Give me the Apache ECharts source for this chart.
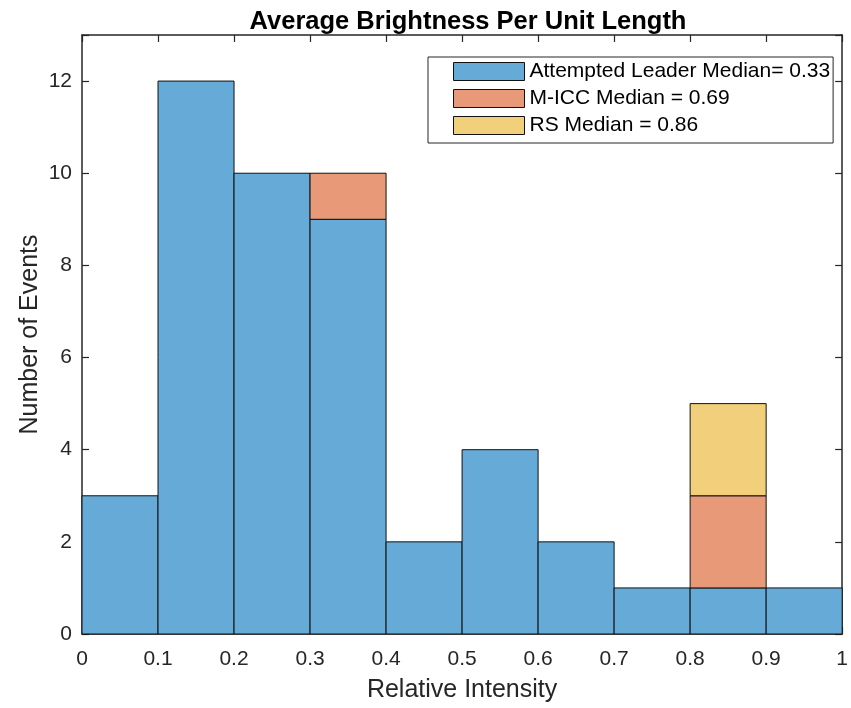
<!DOCTYPE html>
<html>
<head>
<meta charset="utf-8">
<script src="https://cdn.jsdelivr.net/npm/echarts@6/dist/echarts.min.js"></script>
<style>
html,body{margin:0;padding:0;background:#fff;}
#chart{width:851px;height:708px;}
</style>
</head>
<body>
<div id="chart"></div>
<script>
// Histogram bin edges (relative intensity)
const binEdges = [0, 0.1, 0.2, 0.3, 0.4, 0.5, 0.6, 0.7, 0.8, 0.9, 1.0];
// Event counts per bin for each group (stacked)
const leaderCounts = [3, 12, 10, 9, 2, 4, 2, 1, 1, 1];
const miccCounts   = [0, 0, 0, 1, 0, 0, 0, 0, 2, 0];
const rsCounts     = [0, 0, 0, 0, 0, 0, 0, 0, 2, 0];
const seriesNames = ['Attempted Leader Median= 0.33', 'M-ICC Median = 0.69', 'RS Median = 0.86'];
const xTicks = [0, 0.1, 0.2, 0.3, 0.4, 0.5, 0.6, 0.7, 0.8, 0.9, 1];
const yTicks = [0, 2, 4, 6, 8, 10, 12];

const colors = ['#66aad7', '#e89a78', '#f2d07b'];
const groups = [leaderCounts, miccCounts, rsCounts];

// Build [x0, x1, yBottom, yTop] rectangles, stacking each group on the previous ones
function stackedRects(gi) {
  const out = [];
  for (let i = 0; i < binEdges.length - 1; i++) {
    let base = 0;
    for (let g = 0; g < gi; g++) base += groups[g][i];
    const v = groups[gi][i];
    if (v > 0) out.push([binEdges[i], binEdges[i + 1], base, base + v]);
  }
  return out;
}

function renderRect(params, api) {
  const p0 = api.coord([api.value(0), api.value(3)]);
  const p1 = api.coord([api.value(1), api.value(2)]);
  return {
    type: 'rect',
    shape: { x: p0[0], y: p0[1], width: p1[0] - p0[0], height: p1[1] - p0[1] },
    style: api.style({ stroke: '#111', lineWidth: 1 })
  };
}

const fontFamily = '"Liberation Sans", Arial, sans-serif';
const axisColor = '#262626';

const chart = echarts.init(document.getElementById('chart'), null, { renderer: 'canvas' });

const series = groups.map((g, gi) => ({
  name: seriesNames[gi],
  type: 'custom',
  renderItem: renderRect,
  encode: { x: [0, 1], y: [2, 3] },
  itemStyle: { color: colors[gi], borderColor: '#111', borderWidth: 1 },
  data: stackedRects(gi),
  z: 2
}));

const xBase = {
  type: 'value', min: 0, max: 1, interval: 0.1,
  axisLine: { show: true, onZero: false, lineStyle: { color: axisColor, width: 1.5 } },
  axisTick: { show: true, inside: true, length: 7, lineStyle: { color: axisColor, width: 1.2 } },
  splitLine: { show: false }
};
const yBase = {
  type: 'value', min: 0, max: 13, interval: 2,
  axisLine: { show: true, onZero: false, lineStyle: { color: axisColor, width: 1.5 } },
  axisTick: { show: true, inside: true, length: 7, lineStyle: { color: axisColor, width: 1.2 } },
  splitLine: { show: false }
};

chart.setOption({
  backgroundColor: '#fff',
  animation: false,
  title: {
    text: 'Average Brightness Per Unit Length',
    left: 463, top: 4, textAlign: 'center',
    textStyle: { fontFamily, fontSize: 25.5, fontWeight: 'bold', color: '#000' }
  },
  grid: { left: 82, right: 6, top: 35, bottom: 72, containLabel: false },
  legend: {
    orient: 'vertical',
    left: 428, top: 57,
    padding: [4, 3, 7, 25],
    itemWidth: 71, itemHeight: 18, itemGap: 6,
    icon: 'rect',
    borderColor: axisColor, borderWidth: 1,
    backgroundColor: '#fff',
    textStyle: { fontFamily, fontSize: 21, color: '#000' },
    itemStyle: { borderColor: '#111', borderWidth: 1 },
    data: seriesNames
  },
  xAxis: [
    Object.assign({}, xBase, {
      position: 'bottom',
      name: 'Relative Intensity', nameLocation: 'middle', nameGap: 44,
      nameTextStyle: { fontFamily, fontSize: 25, color: '#262626' },
      axisLabel: {
        fontFamily, fontSize: 21, color: '#262626', margin: 15,
        formatter: v => xTicks.some(t => Math.abs(t - v) < 1e-9) ? String(+v.toFixed(1)) : ''
      }
    }),
    Object.assign({}, xBase, { position: 'top', axisLabel: { show: false } })
  ],
  yAxis: [
    Object.assign({}, yBase, {
      position: 'left',
      name: 'Number of Events', nameLocation: 'middle', nameGap: 39,
      nameMoveOverlap: false,
      nameTextStyle: { fontFamily, fontSize: 25, color: '#262626' },
      axisLabel: {
        fontFamily, fontSize: 21, color: '#262626', margin: 10,
        formatter: v => yTicks.indexOf(v) >= 0 ? String(v) : ''
      }
    }),
    Object.assign({}, yBase, { position: 'right', axisLabel: { show: false } })
  ],
  series
});
</script>
</body>
</html>
